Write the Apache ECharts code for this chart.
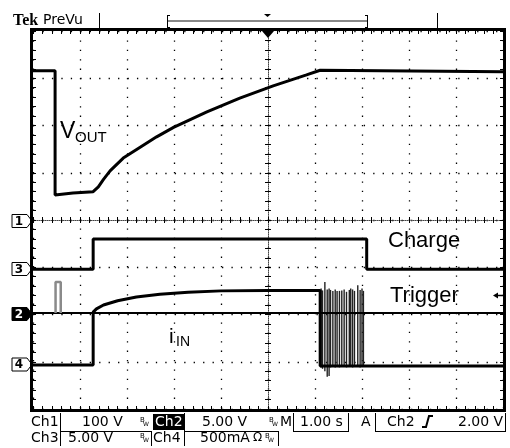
<!DOCTYPE html>
<html>
<head>
<meta charset="utf-8">
<script src="https://cdn.jsdelivr.net/npm/echarts@6/dist/echarts.min.js"></script>
<style>
  html, body { margin: 0; padding: 0; background: #fff; }
  #main { width: 510px; height: 448px; }
</style>
</head>
<body>
<div id="main"></div>
<script>
// time in seconds (1.00 s/div), levels in divisions from screen centre
const voutT = [-5, -4.53, -4.53, -4.15, -3.72, -3.61, -3.50, -3.36, -3.08, -2.72, -2.37, -2.01, -1.30, -0.60, 0.11, 0.82, 1.11, 5];
const voutY = [3.16, 3.16, 0.53, 0.57, 0.60, 0.70, 0.86, 1.04, 1.31, 1.54, 1.76, 1.96, 2.29, 2.58, 2.84, 3.07, 3.17, 3.14];

const chargeT = [-5, -3.72, -3.72, 2.10, 2.10, 5];
const chargeY = [-1.04, -1.04, -0.40, -0.40, -1.04, -1.04];

const trigT = [-5, 5];
const trigY = [-1.97, -1.97];
const pulseT = [-4.52, -4.52, -4.41, -4.41];
const pulseY = [-1.97, -1.31, -1.31, -1.97];

const iinT = [-5, -3.72, -3.72, -3.65, -3.50, -3.20, -2.80, -2.30, -1.70, -1.00, 0, 1.11, 1.11, 5];
const iinY = [-3.07, -3.07, -1.95, -1.88, -1.80, -1.71, -1.63, -1.57, -1.53, -1.50, -1.49, -1.49, -3.09, -3.09];

const spikeT = [1.13, 1.16, 1.21, 1.26, 1.30, 1.33, 1.38, 1.43, 1.47, 1.52, 1.57, 1.62, 1.67, 1.73, 1.76, 1.80, 1.84, 1.91, 1.96, 2.00, 2.03];
const spikeTop = [-1.45, -1.49, -1.31, -1.47, -1.45, -1.48, -1.50, -1.47, -1.50, -1.50, -1.49, -1.47, -1.52, -1.48, -1.45, -1.47, -1.50, -1.38, -1.48, -1.45, -1.50];
const spikeLow = [-3.12, -3.15, -3.20, -3.32, -3.30, -3.12, -3.10, -3.12, -3.10, -3.12, -3.10, -3.10, -3.12, -3.10, -3.10, -3.12, -3.10, -3.10, -3.12, -3.10, -3.10];

const pairs = (xs, ys) => xs.map((x, i) => [x, ys[i]]);

const chart = echarts.init(document.getElementById('main'));

const rect = { left: 33, top: 31, width: 470, height: 378 };
const dotLine = (len) => ({ show: true, lineStyle: { color: '#000', width: 1.3, type: [1.3, len] } });

function xAx(grid, pos, opts) {
  return Object.assign({
    type: 'value', gridIndex: grid, position: pos, min: -5, max: 5, interval: 1,
    axisLabel: { show: false }, splitLine: { show: false },
    axisLine: { show: false, onZero: false },
    axisTick: { show: true, inside: true, length: 3, lineStyle: { color: '#000' } },
    minorTick: { show: true, splitNumber: 5, length: 3, lineStyle: { color: '#000' } }
  }, opts);
}
function yAx(grid, pos, opts) {
  return Object.assign({
    type: 'value', gridIndex: grid, position: pos, min: -4, max: 4, interval: 1,
    axisLabel: { show: false }, splitLine: { show: false },
    axisLine: { show: false, onZero: false },
    axisTick: { show: true, inside: true, length: 3, lineStyle: { color: '#000' } },
    minorTick: { show: true, splitNumber: 5, length: 3, lineStyle: { color: '#000' } }
  }, opts);
}

const centreLine = { show: true, onZero: true, lineStyle: { color: '#444', width: 1, type: [1, 1] } };

const trace = (data, width, color) => ({
  type: 'line', xAxisIndex: 0, yAxisIndex: 0, data: data, showSymbol: false,
  lineStyle: { color: color || '#000', width: width }, animation: false, z: 5
});

const txt = (x, y, s, font, extra) => ({
  type: 'text', x: x, y: y, silent: true,
  style: Object.assign({ text: s, font: font, fill: '#000', verticalAlign: 'middle', align: 'left' }, extra || {})
});
const ln = (x1, y1, x2, y2, w, c) => ({
  type: 'line', silent: true, shape: { x1: x1, y1: y1, x2: x2, y2: y2 },
  style: { stroke: c || '#000', lineWidth: w || 1 }
});
function marker(y, label, filled) {
  return {
    type: 'group', silent: true, children: [
      { type: 'polygon', shape: { points: [[12, y - 6.5], [27, y - 6.5], [32, y], [27, y + 6.5], [12, y + 6.5]] },
        style: { fill: filled ? '#000' : '#fff', stroke: '#000', lineWidth: 1 } },
      { type: 'text', x: 19, y: y + 0.5,
        style: { text: label, font: 'bold 12px "DejaVu Sans"', fill: filled ? '#fff' : '#000', align: 'center', verticalAlign: 'middle' } }
    ]
  };
}

const bottomFont = '14px "DejaVu Sans"';
const r1 = 422, r2 = 438;

chart.setOption({
  animation: false,
  backgroundColor: '#fff',
  grid: [rect, rect, rect, rect].map(r => Object.assign({ show: false }, r)),
  xAxis: [
    xAx(0, 'bottom', { splitLine: dotLine(8.1) }),
    xAx(1, 'bottom', { axisLine: centreLine }),
    xAx(2, 'bottom', { axisLine: { show: false, onZero: true }, axisTick: { show: true, inside: false, length: 3, lineStyle: { color: '#000' } } }),
    xAx(3, 'top', {})
  ],
  yAxis: [
    yAx(0, 'left', { splitLine: dotLine(8.15) }),
    yAx(1, 'left', { axisLine: centreLine }),
    yAx(2, 'left', { axisLine: { show: false, onZero: true }, axisTick: { show: true, inside: false, length: 3, lineStyle: { color: '#000' } } }),
    yAx(3, 'right', {})
  ],
  series: [
    trace(pairs(voutT, voutY), 3),
    trace(pairs(chargeT, chargeY), 3),
    trace(pairs(trigT, trigY), 2),
    trace(pairs(pulseT, pulseY), 2.5, '#8a8a8a'),
    trace(pairs(iinT, iinY), 3),
    {
      type: 'custom', xAxisIndex: 0, yAxisIndex: 0, animation: false, z: 4,
      encode: { x: 0, y: [1, 2] },
      data: spikeT.map((t, i) => [t, spikeLow[i], spikeTop[i]]),
      renderItem: function (params, api) {
        const a = api.coord([api.value(0), api.value(1)]);
        const b = api.coord([api.value(0), api.value(2)]);
        return { type: 'line', shape: { x1: a[0], y1: a[1], x2: b[0], y2: b[1] }, style: { stroke: '#222', lineWidth: 1.4 } };
      }
    }
  ],
  graphic: [
    // screen frame
    { type: 'rect', silent: true, shape: { x: 31.5, y: 29.5, width: 473, height: 381 }, style: { fill: null, stroke: '#000', lineWidth: 3 }, z: 10 },
    // top status bar
    txt(13, 21, 'Tek', 'bold 16px "Liberation Serif"'),
    txt(43, 20, 'PreVu', '14px "DejaVu Sans"'),
    ln(99.5, 13, 99.5, 29),
    ln(437.5, 13, 437.5, 29),
    ln(167, 21, 368, 21, 2, '#888'),
    ln(167.5, 15, 167.5, 28), ln(167, 15.5, 170, 15.5), ln(167, 27.5, 170, 27.5),
    ln(367.5, 15, 367.5, 28), ln(365, 15.5, 368, 15.5), ln(365, 27.5, 368, 27.5),
    { type: 'polygon', silent: true, shape: { points: [[264, 14], [271, 14], [267.5, 17]] }, style: { fill: '#000' } },
    // trigger position and level markers
    { type: 'polygon', silent: true, z: 11, shape: { points: [[262, 31], [274, 31], [268, 38]] }, style: { fill: '#000' } },
    { type: 'polygon', silent: true, z: 11, shape: { points: [[493, 295.5], [498, 292.5], [498, 298.5]] }, style: { fill: '#000' } },
    ln(497, 295.5, 503, 295.5, 1.5),
    // channel ground markers
    marker(221, '1', false),
    marker(269, '3', false),
    marker(314, '2', true),
    marker(364.5, '4', false),
    // trace labels
    txt(60, 132, 'V', '23px "Liberation Sans"'),
    txt(75, 138, 'OUT', '15px "Liberation Sans"'),
    txt(388, 241, 'Charge', '22px "Liberation Sans"'),
    txt(390, 295.5, 'Trigger', '22px "Liberation Sans"'),
    txt(169, 337, 'i', '21px "Liberation Sans"'),
    txt(176, 342, 'IN', '14px "Liberation Sans"'),
    // bottom readout, row 1
    txt(31, r1, 'Ch1', bottomFont),
    txt(82, r1, '100 V', bottomFont),
    txt(140, r1 - 2, 'B', '7px "DejaVu Sans"'), txt(143, r1 + 2, 'W', '6px "DejaVu Sans"'),
    { type: 'rect', silent: true, shape: { x: 153, y: 414, width: 31, height: 16 }, style: { fill: '#000' } },
    txt(155, r1, 'Ch2', bottomFont, { fill: '#fff' }),
    txt(202, r1, '5.00 V', bottomFont),
    txt(269, r1 - 2, 'B', '7px "DejaVu Sans"'), txt(272, r1 + 2, 'W', '6px "DejaVu Sans"'),
    txt(280, r1, 'M', bottomFont),
    txt(300, r1, '1.00 s', bottomFont),
    txt(361, r1, 'A', bottomFont),
    txt(387, r1, 'Ch2', bottomFont),
    { type: 'polyline', silent: true, shape: { points: [[422, 427], [426, 427], [429, 416], [433, 416]] }, style: { stroke: '#000', lineWidth: 2, fill: null } },
    txt(458, r1, '2.00 V', bottomFont),
    ln(60.5, 413, 60.5, 431), ln(184.5, 413, 184.5, 431), ln(293.5, 413, 293.5, 431),
    ln(348.5, 413, 348.5, 431), ln(375.5, 413, 375.5, 431), ln(505.5, 413, 505.5, 431),
    ln(60, 431.5, 152, 431.5), ln(184, 431.5, 279, 431.5), ln(293, 431.5, 349, 431.5), ln(375, 431.5, 506, 431.5),
    // bottom readout, row 2
    txt(31, r2, 'Ch3', bottomFont),
    txt(68, r2, '5.00 V', bottomFont),
    txt(140, r2 - 2, 'B', '7px "DejaVu Sans"'), txt(143, r2 + 2, 'W', '6px "DejaVu Sans"'),
    txt(153, r2, 'Ch4', bottomFont),
    txt(200, r2, '500mA', bottomFont),
    txt(253, r2, 'Ω', '12px "DejaVu Sans"'),
    txt(265, r2 - 2, 'B', '7px "DejaVu Sans"'), txt(268, r2 + 2, 'W', '6px "DejaVu Sans"'),
    ln(60.5, 431, 60.5, 446), ln(151.5, 431, 151.5, 446), ln(184.5, 431, 184.5, 446), ln(278.5, 431, 278.5, 446)
  ]
});
</script>
</body>
</html>
